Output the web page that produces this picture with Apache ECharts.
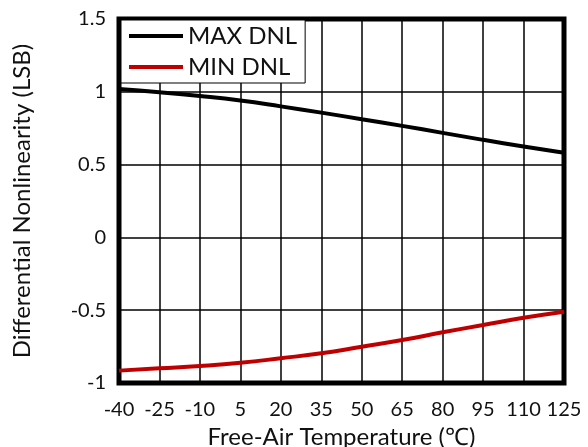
<!DOCTYPE html>
<html><head><meta charset="utf-8">
<script src="https://cdn.jsdelivr.net/npm/echarts@6/dist/echarts.min.js"></script>
<style>html,body{margin:0;padding:0;background:#fff}#c{width:588px;height:447px}</style>
</head><body><div id="c"></div>
<script>
const temps = ['-40','-25','-10','5','20','35','50','65','80','95','110','125'];
const maxDNL = [1.019,0.997,0.971,0.94,0.90,0.857,0.812,0.766,0.718,0.670,0.625,0.582];
const minDNL = [-0.915,-0.899,-0.883,-0.861,-0.830,-0.796,-0.751,-0.705,-0.652,-0.602,-0.552,-0.510];
const yTicks = {min:-1, max:1.5, step:0.5};
const font = 'Lato, "Open Sans", sans-serif';
const chart = echarts.init(document.getElementById('c'));
chart.setOption({
  animation:false,
  grid:{left:119,right:24,top:19,bottom:64,show:true,borderColor:'#000',borderWidth:5,backgroundColor:'transparent',
        containLabel:false,outerBoundsMode:'none'},
  legend:{
    orient:'vertical',left:121,top:20,
    backgroundColor:'#fff',borderColor:'#000',borderWidth:1,
    padding:[4,8,4,8],
    icon:'rect',itemWidth:54,itemHeight:4,itemGap:7,
    textStyle:{fontFamily:font,fontSize:24,color:'#111',lineHeight:24},
    data:['MAX DNL','MIN DNL']
  },
  xAxis:{
    type:'category',data:temps,boundaryGap:false,
    name:'Free-Air Temperature (℃)',nameLocation:'middle',nameGap:38,
    nameTextStyle:{fontFamily:font,fontSize:24,color:'#111'},
    axisLine:{show:false},axisTick:{show:false},
    axisLabel:{interval:0,fontFamily:font,fontSize:20,color:'#111',margin:17},
    splitLine:{show:true,interval:0,lineStyle:{color:'#000',width:1.5}}
  },
  yAxis:{
    type:'value',min:yTicks.min,max:yTicks.max,interval:yTicks.step,
    name:'Differential Nonlinearity (LSB)',nameLocation:'middle',nameGap:85,
    nameTextStyle:{fontFamily:font,fontSize:24,color:'#111'},
    axisLine:{show:false},axisTick:{show:false},
    axisLabel:{fontFamily:font,fontSize:20,color:'#111',margin:13},
    splitLine:{show:true,lineStyle:{color:'#000',width:1.5}}
  },
  series:[
    {name:'MAX DNL',type:'line',data:maxDNL,smooth:true,showSymbol:false,
     lineStyle:{color:'#000',width:4},itemStyle:{color:'#000'},z:3},
    {name:'MIN DNL',type:'line',data:minDNL,smooth:true,showSymbol:false,
     lineStyle:{color:'#c00000',width:4},itemStyle:{color:'#c00000'},z:3}
  ]
});
</script></body></html>
